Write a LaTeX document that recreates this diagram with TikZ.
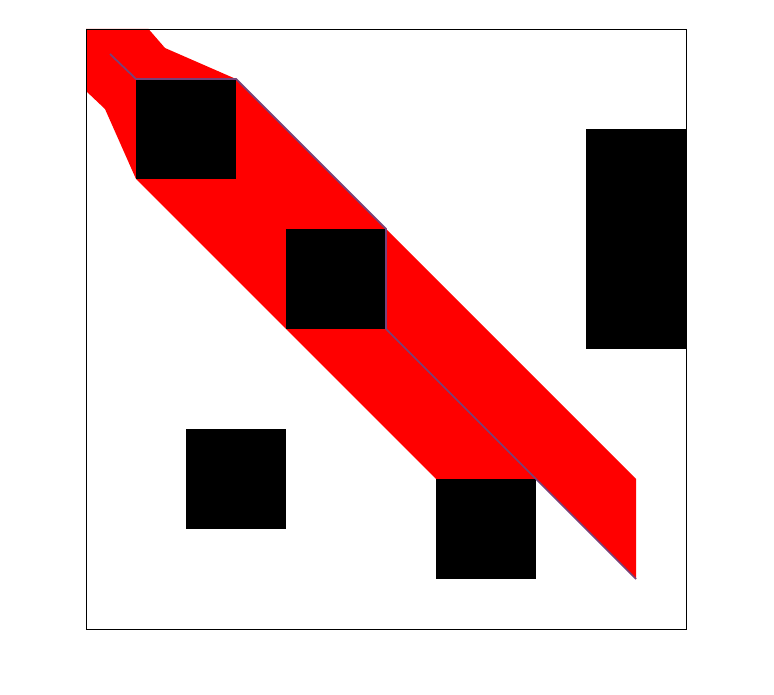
\documentclass[tikz,border=0pt]{standalone}
\begin{document}
\begin{tikzpicture}[x=1cm,y=1cm,
  obstacle/.style={fill=black,draw=none},
  sweep/.style={fill=red,draw=none},
  pathline/.style={draw={rgb,255:red,120;green,65;blue,120},line width=1pt,line join=miter},
  frame/.style={draw=black,line width=0.5pt}]
\useasboundingbox (-1.72,-1.3) rectangle (13.76,12.58);
\begin{scope}
\clip (0,0) rectangle (12,12);
\fill[sweep] (0,12) -- (1.25,12) -- (1.58,11.62) -- (3,11) -- (11,3) -- (11,1) -- (9,3) -- (7,3) -- (1,9) -- (0.38,10.4) -- (0,10.76) -- cycle;
\fill[obstacle] (1,9) rectangle (3,11);
\fill[obstacle] (4,6) rectangle (6,8);
\fill[obstacle] (2,2) rectangle (4,4);
\fill[obstacle] (7,1) rectangle (9,3);
\fill[obstacle] (10,5.6) rectangle (12,10);
\coordinate (s) at (0.48,11.5);
\coordinate (p1) at (1,11);
\coordinate (p2) at (3,11);
\coordinate (p3) at (6,8);
\coordinate (p4) at (6,6);
\coordinate (g) at (11,1);
\draw[pathline] (s) -- (p1) -- (p2) -- (p3) -- (p4) -- (g);
\end{scope}
\draw[frame] (0,0) rectangle (12,12);
\end{tikzpicture}
\end{document}
